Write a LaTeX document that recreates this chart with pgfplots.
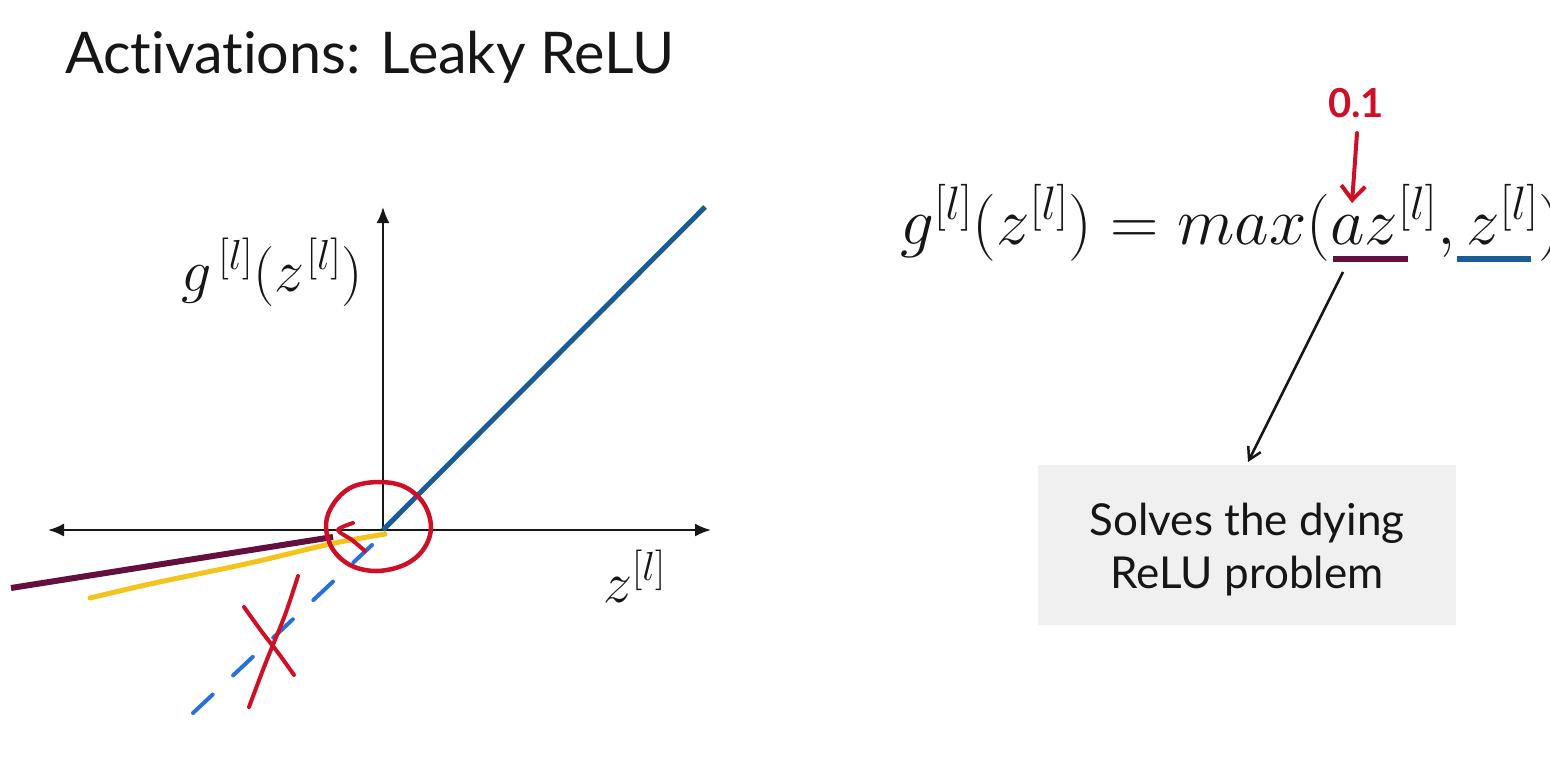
\RequirePackage{fix-cm}
\documentclass[border=0pt]{standalone}
\usepackage[no-math]{fontspec}
\setmainfont{Lato}[Ligatures={NoCommon}]
\usepackage{pgfplots}
\pgfplotsset{compat=1.18}
\usetikzlibrary{arrows.meta}
\definecolor{relublue}{RGB}{27,92,150}
\definecolor{maroon}{RGB}{100,16,62}
\definecolor{hlyellow}{RGB}{245,195,30}
\definecolor{dashblue}{RGB}{40,112,222}
\definecolor{penred}{RGB}{205,16,40}
\definecolor{boxgray}{RGB}{240,240,240}
\definecolor{ink}{RGB}{22,22,22}
\begin{document}
\begin{tikzpicture}
\begin{axis}[
  scale only axis, width=1550pt, height=761pt,
  xmin=0, xmax=1550, ymin=0, ymax=761, y dir=reverse,
  hide axis, clip=true,
]
% grey box
\addplot[draw=none, fill=boxgray] coordinates {(1038,465) (1456,465) (1456,625) (1038,625)} -- cycle;
% axes of the sketch
\addplot[ink, line width=2.2pt, {Latex[length=16pt,width=13pt]}-{Latex[length=16pt,width=13pt]}] coordinates {(48,530) (711,530)};
\addplot[ink, line width=2.2pt, -{Latex[length=16pt,width=13pt]}] coordinates {(383,530) (383,207)};
% ReLU positive part
\addplot[relublue, line width=5pt] coordinates {(383,530) (705,207)};
% leaky part (a z)
\addplot[maroon, line width=6pt] coordinates {(11,588) (333,537)};
% yellow pen stroke
\addplot[hlyellow, line width=5pt, smooth, line cap=round] coordinates {(90,598) (150,584) (250,563) (330,544) (385,534)};
% dashed blue
\addplot[dashblue, line width=4pt, dash pattern=on 27pt off 28pt, line cap=round] coordinates {(193,713) (372,545)};
% red circle
\addplot[penred, line width=4.5pt, smooth cycle, tension=0.6] coordinates {
 (431,528) (424,504) (405,487) (379,482) (352,487) (334,503) (326,524)
 (332,548) (350,565) (376,571) (404,565) (423,550)};
% hook
\addplot[penred, line width=4pt, smooth, line cap=round] coordinates {(353,523) (338,530) (352,540) (365,551)};
% red X
\addplot[penred, line width=4pt, smooth, line cap=round] coordinates {(298,576) (285,615) (266,662) (249,707)};
\addplot[penred, line width=4pt, smooth, line cap=round] coordinates {(244,607) (262,632) (279,654) (294,675)};
% underlines in formula
\addplot[maroon, line width=6pt] coordinates {(1333,259) (1408,259)};
\addplot[relublue, line width=6pt] coordinates {(1457,259) (1531,259)};
% red arrow
\addplot[penred, line width=4pt, line cap=round, -{Straight Barb[length=14pt,width=24pt]}] coordinates {(1357,133) (1352,203)};
% black arrow
\addplot[ink, line width=2.5pt, -{Straight Barb[length=12pt,width=14pt]}] coordinates {(1343,272) (1248,462)};
% texts
\node[anchor=base west, text=ink, inner sep=0pt] at (axis cs:65,73) {\fontsize{57.5}{68}\selectfont Activations: Leaky ReLU};
\node[anchor=base west, text=ink, inner sep=0pt] at (axis cs:181,291) {\fontsize{60}{70}\selectfont $g^{\mkern3mu[l]}(z^{\mkern1mu[l]})$};
\node[anchor=base west, text=ink, inner sep=0pt] at (axis cs:603,602) {\fontsize{58}{68}\selectfont $z^{[l]}$};
\node[anchor=base west, text=ink, inner sep=0pt] at (axis cs:900,244) {\fontsize{67}{77}\selectfont $g^{[l]}(z^{[l]}) = max(az^{[l]}, z^{[l]})$};
\node[anchor=base, text=penred, inner sep=0pt] at (axis cs:1356,117) {\fontsize{40}{48}\selectfont\bfseries 0.1};
\node[anchor=base, text=ink, inner sep=0pt] at (axis cs:1247,535) {\fontsize{44}{53}\selectfont Solves the dying};
\node[anchor=base, text=ink, inner sep=0pt] at (axis cs:1247,588) {\fontsize{44}{53}\selectfont ReLU problem};
\coordinate (SW) at (axis cs:0,761);
\coordinate (NE) at (axis cs:1550,0);
\end{axis}
\pgfresetboundingbox
\path[use as bounding box] (SW) rectangle (NE);
\end{tikzpicture}
\end{document}
